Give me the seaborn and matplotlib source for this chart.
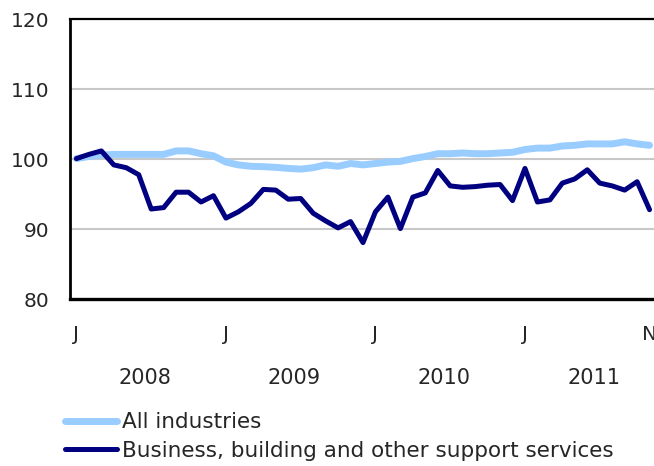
import matplotlib
matplotlib.use("Agg")
import matplotlib.pyplot as plt
import seaborn as sns
import pandas as pd
import numpy as np

# Monthly index values, Jan 2008 – Nov 2011
all_industries = [100.1, 100.4, 100.6, 100.7, 100.7, 100.7, 100.7, 100.7, 101.2, 101.2,
                  100.8, 100.5, 99.6, 99.2, 99.0, 98.95, 98.85, 98.7, 98.6, 98.8,
                  99.2, 99.0, 99.4, 99.2, 99.4, 99.6, 99.7, 100.1, 100.4, 100.8,
                  100.8, 100.9, 100.8, 100.8, 100.9, 101.0, 101.4, 101.6, 101.6, 101.9,
                  102.0, 102.2, 102.2, 102.2, 102.5, 102.2, 102.0]
business_support = [100.1, 100.7, 101.2, 99.2, 98.8, 97.8, 92.9, 93.1, 95.3, 95.3,
                    93.9, 94.8, 91.6, 92.5, 93.7, 95.7, 95.6, 94.3, 94.4, 92.3,
                    91.2, 90.2, 91.1, 88.1, 92.5, 94.6, 90.1, 94.6, 95.2, 98.4,
                    96.2, 96.0, 96.1, 96.3, 96.4, 94.1, 98.7, 93.9, 94.2, 96.6,
                    97.2, 98.5, 96.6, 96.2, 95.6, 96.8, 92.8]
month_tick_labels = ["J", "J", "J", "J", "N"]
month_tick_index = [0, 12, 24, 36, 46]
years = ["2008", "2009", "2010", "2011"]
series_names = ["All industries", "Business, building and other support services"]

n = len(all_industries)
df = pd.DataFrame({
    "month": list(range(n)) * 2,
    "value": all_industries + business_support,
    "series": [series_names[0]] * n + [series_names[1]] * n,
})

sns.set_style("white")
plt.rcParams["font.family"] = ["DejaVu Sans"]

W, H = 654, 466
fig = plt.figure(figsize=(W / 100, H / 100), dpi=100)
left_px, right_px, top_px, bot_px = 70.2, 655.8, 19.3, 299.3
ax = fig.add_axes([left_px / W, 1 - bot_px / H, (right_px - left_px) / W, (bot_px - top_px) / H])

sns.lineplot(data=df[df.series == series_names[0]], x="month", y="value", ax=ax,
             color="#99CCFF", linewidth=5.0, label=series_names[0],
             solid_capstyle="round", solid_joinstyle="round", legend=False)
sns.lineplot(data=df[df.series == series_names[1]], x="month", y="value", ax=ax,
             color="#000080", linewidth=3.6, label=series_names[1],
             solid_capstyle="round", solid_joinstyle="round", legend=False)

ax.set_xlim(-0.5, n - 0.5)
ax.set_ylim(80, 120)
ax.set_yticks([80, 90, 100, 110, 120])
ax.set_yticklabels(["80", "90", "100", "110", "120"], fontsize=14.5)
ax.tick_params(axis="y", length=0, pad=15)
for yv in [90, 100, 110]:
    ax.axhline(yv, color="#C8C8C8", linewidth=1.5, zorder=0)

ax.set_xlabel("")
ax.set_ylabel("")
ax.set_xticks([k + 0.5 for k in range(n - 1)])
ax.set_xticklabels([])
ax.tick_params(axis="x", direction="in", length=3.8, width=1.2, color="black")

for i, lab in zip(month_tick_index, month_tick_labels):
    ax.text(i, -0.1275, lab, transform=ax.get_xaxis_transform(), ha="center", va="center",
            fontsize=14.5, clip_on=False)
for k, yr in enumerate(years):
    ax.text(12 * k + 5.5, -0.281, yr, transform=ax.get_xaxis_transform(), ha="center",
            va="center", fontsize=15, clip_on=False)

ax.spines["right"].set_visible(False)
ax.spines["left"].set_linewidth(2.0)
ax.spines["top"].set_linewidth(1.6)
ax.spines["bottom"].set_linewidth(2.4)
for s in ["left", "top", "bottom"]:
    ax.spines[s].set_color("black")

handles, labels = ax.get_legend_handles_labels()
leg = fig.legend(handles, labels, loc="center left", bbox_to_anchor=(64.6 / W, 1 - 436.5 / H),
                 frameon=False, fontsize=15.5, handlelength=2.45, handletextpad=0.2,
                 labelspacing=0.4, borderpad=0, borderaxespad=0)

fig.savefig("out.png", dpi=100)
